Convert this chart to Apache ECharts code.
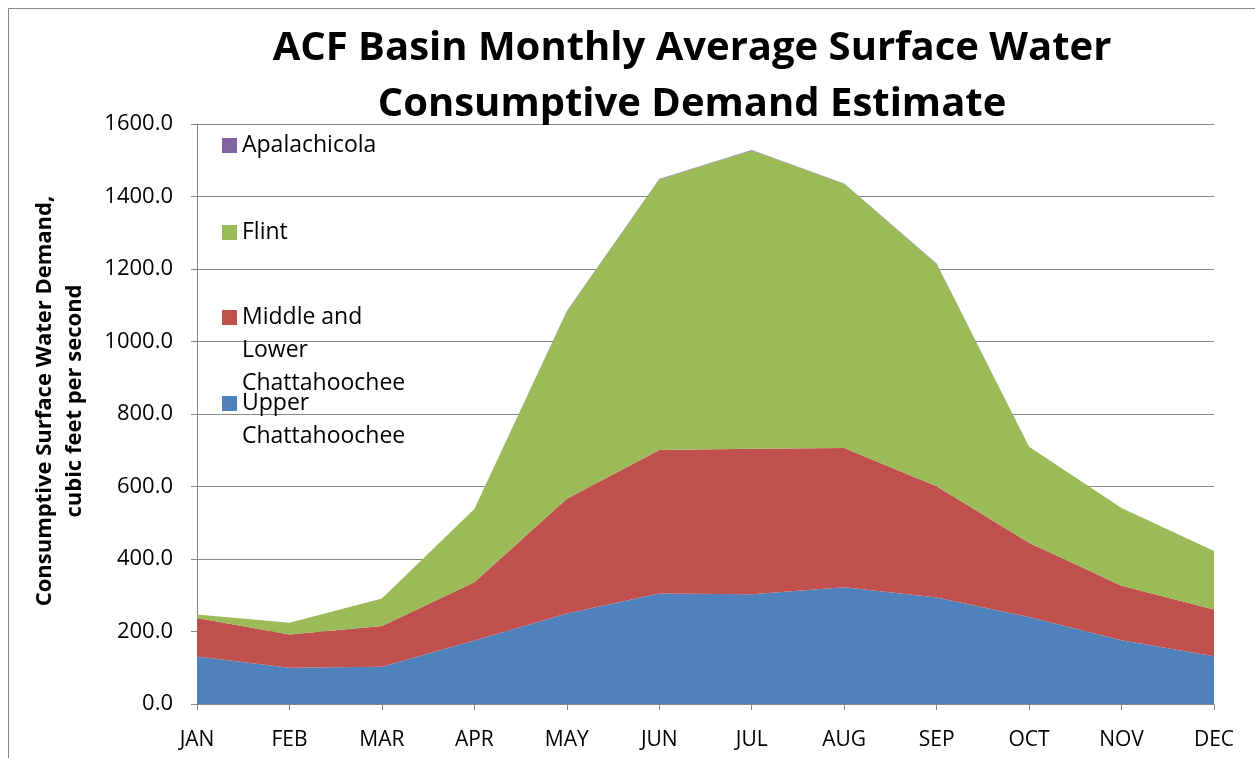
<!DOCTYPE html>
<html>
<head>
<meta charset="utf-8">
<script src="https://cdn.jsdelivr.net/npm/echarts@6/dist/echarts.min.js"></script>
<style>
  html, body { margin: 0; padding: 0; background: #fff; }
  #main { width: 1255px; height: 758px; }
</style>
</head>
<body>
<div id="main"></div>
<script>
var months = ['JAN','FEB','MAR','APR','MAY','JUN','JUL','AUG','SEP','OCT','NOV','DEC'];
// cubic feet per second, stacked from the bottom
var upperChatt  = [131, 100, 103, 175, 250, 305, 303, 322, 294, 240, 176, 132];
var midLowChatt = [106,  92, 112, 161, 316, 396, 401, 384, 307, 205, 150, 129];
var flint       = [ 10,  32,  76, 202, 517, 746, 823, 729, 613, 265, 215, 161];
var apalach     = [  0,   0,   0,   0,   1,   1,   1,   1,   1,   0,   0,   0];

var font = '"Open Sans", "Noto Sans", sans-serif';
var myChart = echarts.init(document.getElementById('main'));

// one legend per item, so each can sit where Excel put it
// blank lines above keep the swatch level with the first text line
function legendItem(name, label, top) {
  return {
    data: [name],
    orient: 'vertical',
    left: 217,
    top: top,
    itemWidth: 15,
    itemHeight: 15,
    icon: 'rect',
    selectedMode: false,
    formatter: function () { return label; },
    textStyle: {
      fontFamily: font,
      fontSize: 23,
      color: '#000',
      lineHeight: 33
    }
  };
}

var option = {
  animation: false,
  title: {
    text: 'ACF Basin Monthly Average Surface Water\nConsumptive Demand Estimate',
    left: 687,
    textAlign: 'center',
    top: 16,
    textStyle: {
      fontFamily: font,
      fontWeight: 'bold',
      fontSize: 40,
      lineHeight: 56,
      color: '#000'
    }
  },
  legend: [
    legendItem('Apalachicola', 'Apalachicola', 124),
    legendItem('Flint', 'Flint', 211),
    legendItem('Middle and Lower Chattahoochee', '\n\nMiddle and\nLower\nChattahoochee', 230),
    legendItem('Upper Chattahoochee', '\nUpper\nChattahoochee', 349)
  ],
  grid: {
    left: 197,
    right: 41,
    top: 124,
    bottom: 54,
    containLabel: false,
    outerBoundsMode: 'none'
  },
  xAxis: {
    type: 'category',
    data: months,
    boundaryGap: false,
    axisLine: { lineStyle: { color: '#868686', width: 1 } },
    axisTick: { show: true, length: 6, lineStyle: { color: '#868686' } },
    axisLabel: { fontFamily: font, fontSize: 21, color: '#000', margin: 26 }
  },
  yAxis: {
    type: 'value',
    min: 0,
    max: 1600,
    interval: 200,
    name: 'Consumptive Surface Water Demand,\ncubic feet per second',
    nameLocation: 'middle',
    nameGap: 107,
    nameTextStyle: {
      fontFamily: font,
      fontWeight: 'bold',
      fontSize: 22,
      lineHeight: 30,
      color: '#000',
      padding: [0, 0, 0, 26]
    },
    axisLine: { show: true, lineStyle: { color: '#868686' } },
    axisTick: { show: true, length: 6, lineStyle: { color: '#868686' } },
    axisLabel: {
      fontFamily: font,
      fontSize: 22,
      color: '#000',
      margin: 24,
      formatter: function (v) { return v.toFixed(1); }
    },
    splitLine: { lineStyle: { color: '#868686', width: 1 } }
  },
  series: [
    {
      name: 'Upper Chattahoochee',
      type: 'line',
      stack: 'total',
      data: upperChatt,
      symbol: 'none',
      lineStyle: { width: 0 },
      itemStyle: { color: '#4F81BD' },
      areaStyle: { color: '#4F81BD', opacity: 1 }
    },
    {
      name: 'Middle and Lower Chattahoochee',
      type: 'line',
      stack: 'total',
      data: midLowChatt,
      symbol: 'none',
      lineStyle: { width: 0 },
      itemStyle: { color: '#C0504D' },
      areaStyle: { color: '#C0504D', opacity: 1 }
    },
    {
      name: 'Flint',
      type: 'line',
      stack: 'total',
      data: flint,
      symbol: 'none',
      lineStyle: { width: 0 },
      itemStyle: { color: '#9BBB59' },
      areaStyle: { color: '#9BBB59', opacity: 1 }
    },
    {
      name: 'Apalachicola',
      type: 'line',
      stack: 'total',
      data: apalach,
      symbol: 'none',
      lineStyle: { width: 0 },
      itemStyle: { color: '#8064A2' },
      areaStyle: { color: '#8064A2', opacity: 1 }
    }
  ],
  graphic: [
    { type: 'line', shape: { x1: 8.5, y1: 8.5, x2: 8.5, y2: 758 }, style: { stroke: '#868686', lineWidth: 1 } },
    { type: 'line', shape: { x1: 8.5, y1: 8.5, x2: 1255, y2: 8.5 }, style: { stroke: '#868686', lineWidth: 1 } }
  ]
};

myChart.setOption(option);
</script>
</body>
</html>
